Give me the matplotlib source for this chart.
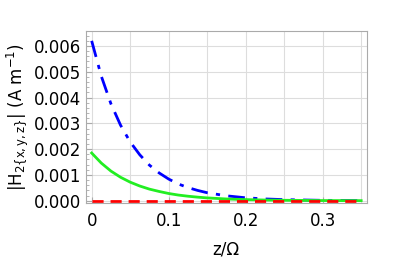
import matplotlib
matplotlib.use("Agg")
import matplotlib.pyplot as plt
from matplotlib.ticker import MultipleLocator

# values
z = [0, 0.0125, 0.025, 0.0375, 0.05, 0.0625, 0.075, 0.0875, 0.1, 0.1125,
     0.125, 0.1375, 0.15, 0.175, 0.2, 0.225, 0.25, 0.3, 0.35]
h_blue = [0.00620, 0.00483, 0.00376, 0.00293, 0.00228, 0.00178, 0.00138,
          0.00108, 0.00084, 0.00065, 0.00051, 0.00040, 0.00031, 0.00019,
          0.000114, 0.000069, 0.000042, 0.000015, 0.000006]
h_green = [0.00185, 0.00146, 0.00115, 0.00091, 0.00072, 0.00057, 0.00045,
           0.00036, 0.00028, 0.00022, 0.000175, 0.000139, 0.000109, 0.000068,
           0.000043, 0.000027, 0.000017, 0.0000065, 0.0000025]
h_red = [0.0] * len(z)

xticks = [0, 0.1, 0.2, 0.3]
xtick_labels = ["0", "0.1", "0.2", "0.3"]

plt.rcParams["mathtext.default"] = "regular"

fig = plt.figure(figsize=(3.98, 2.63), dpi=100)
ax = fig.add_axes([0.216, 0.227, 0.705, 0.655])

ax.plot(z, h_blue, color="#0000ff", linewidth=2, dashes=(6, 3, 1.5, 3))
ax.plot(z, h_green, color="#22ee22", linewidth=2)
ax.plot(z, h_red, color="#ff0000", linewidth=2, dashes=(4, 2.5))

ax.set_xlim(-0.0074, 0.357)
ax.set_ylim(-0.0001, 0.00658)

ax.set_xticks(xticks)
ax.set_xticklabels(xtick_labels)
ax.xaxis.set_minor_locator(MultipleLocator(0.05))
ax.yaxis.set_major_locator(MultipleLocator(0.001))
ax.yaxis.set_minor_locator(MultipleLocator(0.0002))
ax.yaxis.set_major_formatter(matplotlib.ticker.FormatStrFormatter("%.3f"))

ax.grid(True, which="major", color="#dddddd", linewidth=0.8)
ax.grid(True, which="minor", axis="x", color="#dddddd", linewidth=0.8)
ax.set_axisbelow(True)

for s in ax.spines.values():
    s.set_color("#aaaaaa")
ax.tick_params(which="both", direction="in", colors="#aaaaaa",
               labelcolor="black", labelsize=12)
ax.tick_params(which="major", length=4)
ax.tick_params(which="minor", length=2)
ax.tick_params(axis="x", which="minor", length=0)
ax.tick_params(axis="x", pad=6)

ax.set_xlabel("z/Ω", fontsize=12, labelpad=8)
ax.set_ylabel(r"$|H_{2\{x,y,z\}}|$ (A m$^{-1}$)", fontsize=12, labelpad=2)

fig.savefig("out.png", dpi=100)
